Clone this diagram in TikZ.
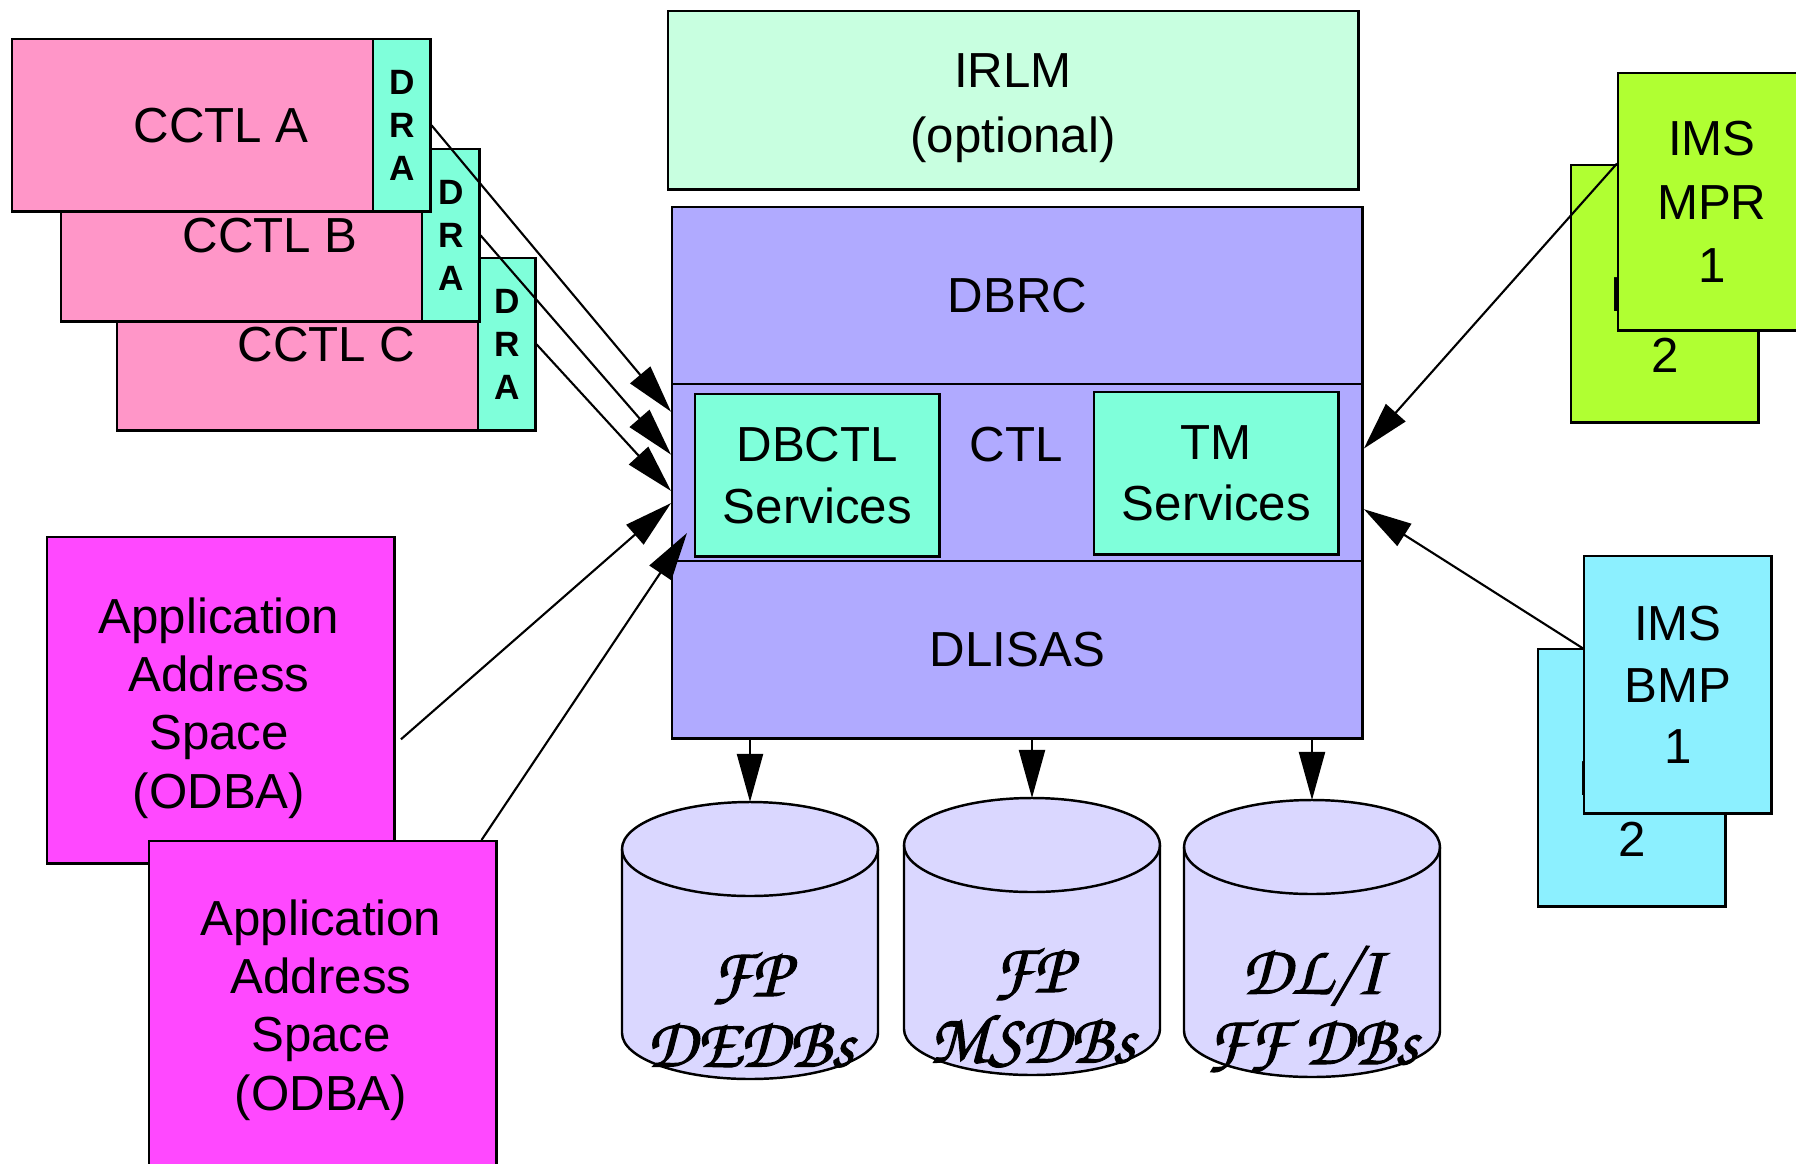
\documentclass[tikz,border=0pt]{standalone}
\usepackage{fontspec}
\setmainfont{Liberation Sans}
\newfontfamily\dbfont[FakeBold=1.5]{TeX Gyre Chorus}
\usetikzlibrary{arrows.meta}
\definecolor{cctlpink}{RGB}{255,150,200}
\definecolor{draaqua}{RGB}{127,255,218}
\definecolor{irlmmint}{RGB}{200,255,224}
\definecolor{ctllav}{RGB}{176,170,255}
\definecolor{appmag}{RGB}{255,72,255}
\definecolor{mprgreen}{RGB}{176,255,50}
\definecolor{bmpcyan}{RGB}{140,240,255}
\definecolor{dblav}{RGB}{218,215,255}

\begin{document}
\begin{tikzpicture}[x=0.01cm, y=-0.01cm, >={Triangle[length=4.8mm,width=2.6mm]},
  box/.style={draw, line width=0.7pt, inner sep=0pt, anchor=north west, align=center,
    font=\fontsize{14}{17.5}\selectfont},
  cctl/.style={box, fill=cctlpink, minimum width=4.18cm, minimum height=1.72cm},
  dra/.style={box, fill=draaqua, minimum width=0.57cm, minimum height=1.72cm,
    font=\fontsize{10}{12.2}\selectfont\bfseries},
  part/.style={box, fill=ctllav, minimum width=6.9cm, minimum height=1.77cm},
  svc/.style={box, fill=draaqua, minimum width=2.44cm, minimum height=1.62cm},
  appl/.style={box, fill=appmag, minimum width=3.47cm, minimum height=3.26cm},
  region/.style={box, minimum width=1.87cm, minimum height=2.57cm},
  lbl/.style={align=center, font=\fontsize{14}{16.6}\selectfont},
  dbtxt/.style={align=center, font=\dbfont\fontsize{20}{20}\selectfont},
  conn/.style={->, line width=0.6pt}]
  \useasboundingbox (0,0) rectangle (1796,1163);

  \node[cctl] (cctlC) at (116,257) {CCTL C};
  \node[dra] (draC) at (477,257) {D\\R\\A};
  \node[cctl] (cctlB) at (60,148) {CCTL B};
  \node[dra] (draB) at (421,148) {D\\R\\A};
  \node[cctl] (cctlA) at (11,38) {CCTL A};
  \node[dra] (draA) at (372,38) {D\\R\\A};

  \node[appl] (app1) at (46,536) {};
  \node[lbl] (app1txt) at (219,708) {Application\\Address\\Space\\(ODBA)};
  \node[appl] (app2) at (148,840) {};
  \node[lbl] (app2txt) at (321,1010) {Application\\Address\\Space\\(ODBA)};

  \node[box, fill=irlmmint, minimum width=6.9cm, minimum height=1.78cm] (irlm) at (667,10) {};
  \node[lbl, font=\fontsize{14}{18.4}\selectfont] (irlmtxt) at (1013,108) {IRLM\\(optional)};
  \node[part] (dbrc) at (671,206) {DBRC};
  \node[part] (ctl) at (671,383) {};
  \node[part] (dlisas) at (671,560) {DLISAS};
  \node[font=\fontsize{14}{17.5}\selectfont] (ctltxt) at (1016,445) {CTL};
  \node[svc] (dbctl) at (694,393) {DBCTL\\Services};
  \node[svc] (tm) at (1093,391) {TM\\Services};

  \node[region, fill=mprgreen] (mpr2) at (1570,164) {IMS\\MPR\\2};
  \node[region, fill=mprgreen, font=\fontsize{14}{18}\selectfont] (mpr1) at (1617,72) {IMS\\MPR\\1};
  \node[region, fill=bmpcyan] (bmp2) at (1537,648) {IMS\\BMP\\2};
  \node[region, fill=bmpcyan] (bmp1) at (1583,555) {IMS\\BMP\\1};

  \foreach \cx/\ct/\n in {750/802/1, 1032/798/2, 1312/800/3} {
    \filldraw[fill=dblav, line width=0.7pt] (\cx-128,\ct+47) -- (\cx-128,\ct+231)
      arc[start angle=180, end angle=0, x radius=128, y radius=46] -- (\cx+128,\ct+47)
      arc[start angle=0, end angle=-180, x radius=128, y radius=47] -- cycle;
    \draw[line width=0.7pt] (\cx-128,\ct+47) arc[start angle=180, end angle=0, x radius=128, y radius=47];
    \coordinate (db\n) at (\cx,\ct);
  }
  \node[dbtxt] (dedb) at (750,1010) {FP\\DEDBs};
  \node[dbtxt] (msdb) at (1032,1008) {FP\\MSDBs};
  \node[dbtxt] (ffdb) at (1312,1009) {DL/I\\FF DBs};

  \coordinate (ctlin) at (687,533);
  \draw[conn] (draA.east) -- (ctl.170);
  \draw[conn] (draB.east) -- (ctl.177);
  \draw[conn] (draC.east) -- (ctl.183);
  \draw[conn, shorten <=0.7mm] (app1.-14) -- (ctl.185);
  \draw[conn] (app2.46) -- (ctlin);
  \draw[conn] (mpr1.158) -- (ctl.4);
  \draw[conn] (bmp1.159) -- (ctl.-6);
  \foreach \n in {1,2,3}
    \draw[conn] (dlisas.south -| db\n) -- (db\n);
\end{tikzpicture}
\end{document}
